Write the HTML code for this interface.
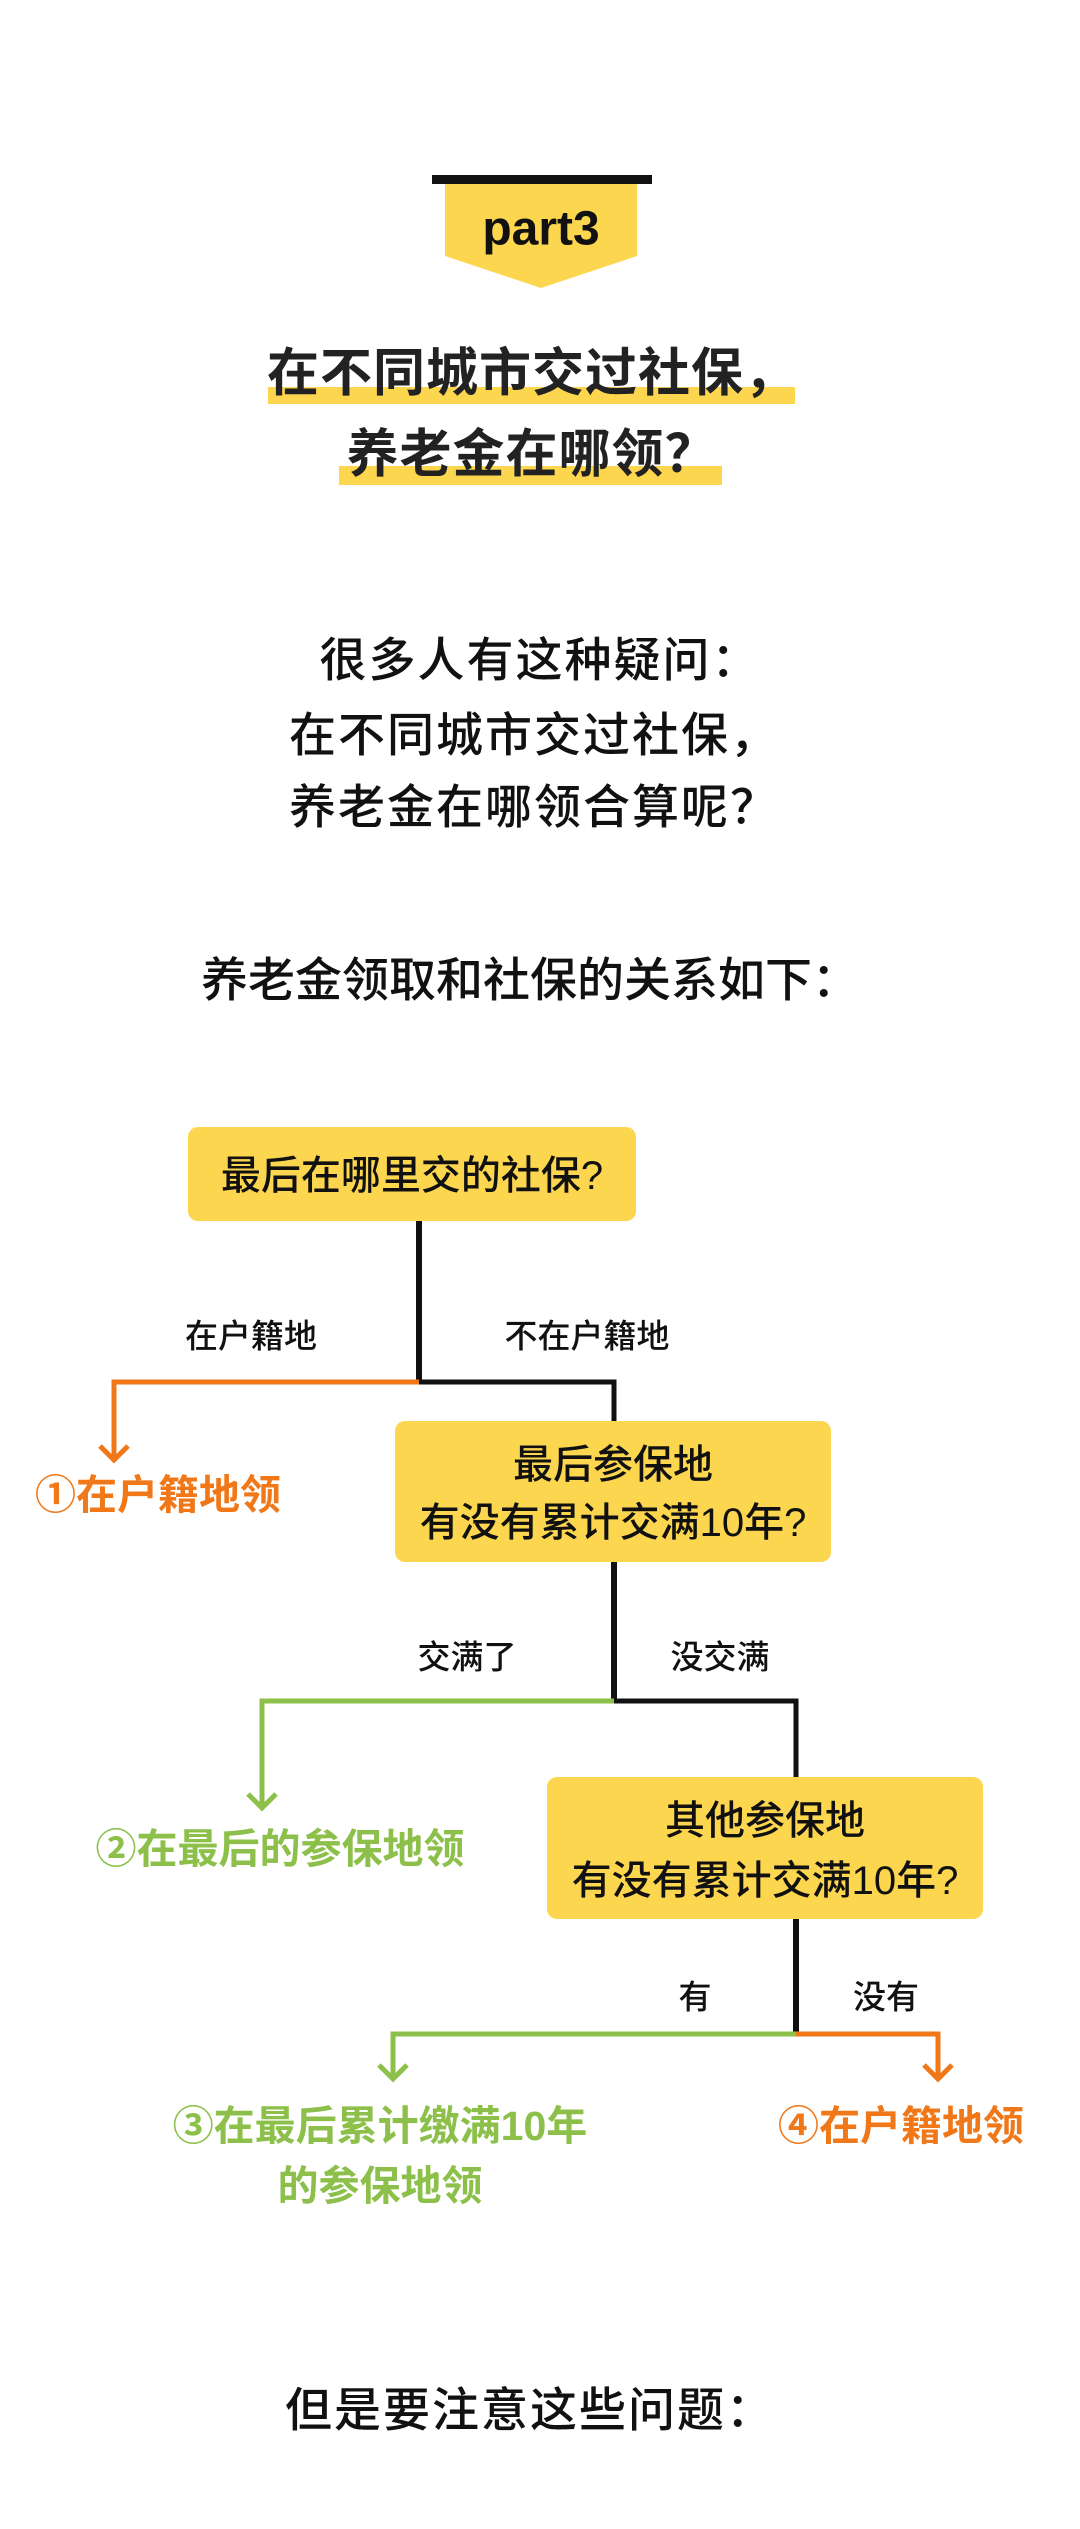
<!DOCTYPE html>
<html><head><meta charset="utf-8"><style>
html,body{margin:0;padding:0;background:#fff;}
svg{display:block;}
text{font-family:"Liberation Sans","Noto Sans CJK SC",sans-serif;}
</style></head><body>
<svg width="1080" height="2529" viewBox="0 0 1080 2529" xmlns="http://www.w3.org/2000/svg">
<rect width="1080" height="2529" fill="#fff"/>
<rect x="432" y="175" width="220" height="9" fill="#111"/>
<polygon points="445,184 637,184 637,256 541,288 445,256" fill="#fdd64f"/>
<text x="541" y="229" font-size="48" font-weight="bold" fill="#111" text-anchor="middle" dominant-baseline="central">part3</text>
<rect x="268" y="387" width="527" height="17" fill="#fdd64f"/>
<rect x="339" y="466" width="383" height="19" fill="#fdd64f"/>
<text x="532" y="374" font-size="52" font-weight="bold" fill="#222" text-anchor="middle" dominant-baseline="central" letter-spacing="1">在不同城市交过社保，</text>
<text x="532" y="455" font-size="52" font-weight="bold" fill="#222" text-anchor="middle" dominant-baseline="central" letter-spacing="1">养老金在哪领？</text>
<g font-size="47" font-weight="500" fill="#111" text-anchor="middle" dominant-baseline="central" letter-spacing="2">
<text x="540" y="660">很多人有这种疑问：</text>
<text x="534" y="735">在不同城市交过社保，</text>
<text x="534" y="807">养老金在哪领合算呢？</text>
<text x="530" y="980" letter-spacing="0">养老金领取和社保的关系如下：</text>
<text x="530" y="2410">但是要注意这些问题：</text>
</g>
<rect x="188" y="1127" width="448" height="94" rx="10" fill="#fdd64f"/>
<rect x="395" y="1421" width="436" height="141" rx="10" fill="#fdd64f"/>
<rect x="547" y="1777" width="436" height="142" rx="10" fill="#fdd64f"/>
<g font-size="40" font-weight="500" fill="#111" text-anchor="middle" dominant-baseline="central">
<text x="412" y="1176">最后在哪里交的社保?</text>
<text x="613" y="1465">最后参保地</text>
<text x="613" y="1523">有没有累计交满10年?</text>
<text x="765" y="1821">其他参保地</text>
<text x="765" y="1881">有没有累计交满10年?</text>
</g>
<g fill="none" stroke-linecap="butt" stroke-linejoin="miter">
<polyline points="419,1221 419,1382" stroke="#111" stroke-width="6"/>
<polyline points="419,1382 614,1382 614,1421" stroke="#111" stroke-width="5"/>
<polyline points="419,1382 114,1382 114,1460" stroke="#f07818" stroke-width="5"/>
<polyline points="100,1446 114,1460 128,1446" stroke="#f07818" stroke-width="5"/>
<polyline points="614,1562 614,1701" stroke="#111" stroke-width="6"/>
<polyline points="614,1701 796,1701 796,1777" stroke="#111" stroke-width="5"/>
<polyline points="614,1701 262,1701 262,1808" stroke="#8cc04a" stroke-width="5"/>
<polyline points="248,1794 262,1808 276,1794" stroke="#8cc04a" stroke-width="5"/>
<polyline points="796,1919 796,2034" stroke="#111" stroke-width="6"/>
<polyline points="796,2034 393,2034 393,2079" stroke="#8cc04a" stroke-width="5"/>
<polyline points="379,2065 393,2079 407,2065" stroke="#8cc04a" stroke-width="5"/>
<polyline points="796,2034 938,2034 938,2079" stroke="#f07818" stroke-width="5"/>
<polyline points="924,2065 938,2079 952,2065" stroke="#f07818" stroke-width="5"/>
</g>
<g font-size="33" font-weight="500" fill="#111" text-anchor="middle" dominant-baseline="central">
<text x="251" y="1336">在户籍地</text>
<text x="587" y="1336">不在户籍地</text>
<text x="467" y="1657">交满了</text>
<text x="720" y="1657">没交满</text>
<text x="695" y="1997">有</text>
<text x="886" y="1997">没有</text>
</g>
<g font-size="41" font-weight="bold" text-anchor="middle" dominant-baseline="central">
<text x="158" y="1495" fill="#f07818">①在户籍地领</text>
<text x="280" y="1849" fill="#8cc04a">②在最后的参保地领</text>
<text x="380" y="2126" fill="#8cc04a">③在最后累计缴满10年</text>
<text x="380" y="2186" fill="#8cc04a">的参保地领</text>
<text x="901" y="2126" fill="#f07818">④在户籍地领</text>
</g>
</svg>
</body></html>
